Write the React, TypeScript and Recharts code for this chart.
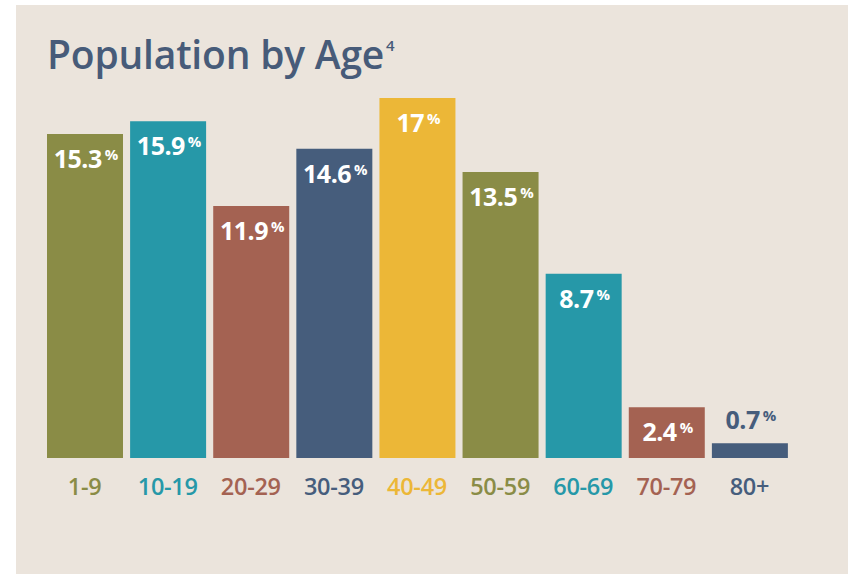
import React from 'react'
import { Bar, BarChart, Cell, LabelList, XAxis, YAxis } from 'recharts'

const ageGroups = ['1-9', '10-19', '20-29', '30-39', '40-49', '50-59', '60-69', '70-79', '80+']
const shares = [15.3, 15.9, 11.9, 14.6, 17, 13.5, 8.7, 2.4, 0.7]
const groupColors = ['#8a8c46', '#2698a8', '#a46252', '#465d7c', '#ecb737', '#8a8c46', '#2698a8', '#a46252', '#465d7c']

const data = ageGroups.map((group, i) => ({ group, share: shares[i] }))

const FONT = '"Open Sans", sans-serif'
const INK = '#475b79'

function ShareLabel(props: any) {
  const { x, y, width, height, value, index } = props
  const cx = Number(x) + Number(width) / 2
  // tiny bars get their label above the bar
  const outside = Number(height) < 30
  const baseY = outside ? Number(y) - 14 : Number(y) + 34
  return (
    <text
      x={cx + 1}
      y={baseY}
      textAnchor="middle"
      fill={outside ? groupColors[index] : '#ffffff'}
      fontFamily={FONT}
      fontWeight={700}
    >
      <tspan fontSize={25} letterSpacing={-0.5}>{value}</tspan>
      <tspan fontSize={15} dx={3} dy={-8}>%</tspan>
    </text>
  )
}

function AgeTick(props: any) {
  const { x, y, payload, index } = props
  return (
    <text
      x={x}
      y={y + 29}
      textAnchor="middle"
      fill={groupColors[index]}
      fontFamily={FONT}
      fontWeight={600}
      fontSize={23.5}
      letterSpacing={-0.3}
    >
      {payload.value}
    </text>
  )
}

export default function App() {
  return (
    <div style={{ position: 'absolute', left: 0, top: 0, width: 852, height: 575, background: '#ffffff' }}>
      <div
        style={{
          position: 'absolute',
          left: 16,
          top: 5,
          width: 832,
          height: 569,
          background: '#ebe4dc',
        }}
      />
      <div
        style={{
          position: 'absolute',
          left: 47,
          top: 27,
          fontFamily: FONT,
          fontWeight: 600,
          fontSize: 39,
          letterSpacing: -0.2,
          color: INK,
          whiteSpace: 'nowrap',
        }}
      >
        Population by Age<sup style={{ fontSize: 15, verticalAlign: 'top', position: 'relative', top: 8, marginLeft: 2 }}>4</sup>
      </div>
      <div style={{ position: 'absolute', left: 0, top: 0 }}>
        <BarChart
          width={852}
          height={575}
          data={data}
          margin={{ top: 98, right: 61, left: 43, bottom: 87 }}
        >
          <XAxis dataKey="group" axisLine={false} tickLine={false} height={30} interval={0} tick={<AgeTick />} />
          <YAxis hide domain={[0, 17]} />
          <Bar dataKey="share" barSize={76} isAnimationActive={false}>
            {data.map((d, i) => (
              <Cell key={d.group} fill={groupColors[i]} />
            ))}
            <LabelList dataKey="share" content={<ShareLabel />} />
          </Bar>
        </BarChart>
      </div>
    </div>
  )
}
